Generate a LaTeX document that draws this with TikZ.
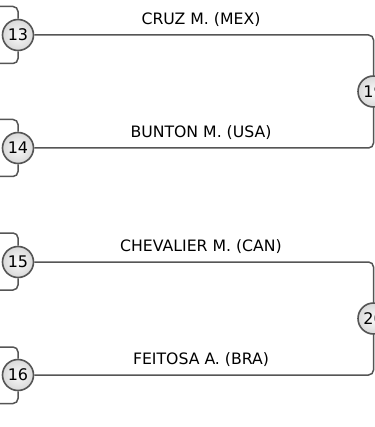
\documentclass[tikz,border=0pt]{standalone}
\usepackage{fontspec}
\setmainfont{DejaVu Sans}
\definecolor{linegray}{HTML}{555555}
\begin{document}
\begin{tikzpicture}[x=1pt,y=-1pt,
  bout/.style={circle, draw=linegray, line width=1.6pt, minimum size=31pt, inner sep=0pt,
    inner color=white!96!gray, outer color=gray!30, font=\fontsize{16}{16}\selectfont},
  conn/.style={draw=linegray, line width=1.5pt, rounded corners=5pt},
  fname/.style={font=\fontsize{15.7}{16}\selectfont, text=black, inner sep=0pt}]
\useasboundingbox (0,0) rectangle (374,427);
\fill[white] (0,0) rectangle (374,427);
% free ends of the brackets
\coordinate (t13) at (0,6.5);   \coordinate (b13) at (0,63.5);
\coordinate (t14) at (0,119.5); \coordinate (b14) at (0,176.5);
\coordinate (t15) at (0,233);   \coordinate (b15) at (0,290);
\coordinate (t16) at (0,347);   \coordinate (b16) at (0,403.5);
\coordinate (p19) at (373.5,91.5);
\coordinate (p20) at (373.5,318.5);
% matches
\node[bout] (m13) at (18,35) {13};
\node[bout] (m14) at (18,148) {14};
\node[bout] (m15) at (18,262) {15};
\node[bout] (m16) at (18,375) {16};
\node[bout] (m19) at (p19) {19};
\node[bout] (m20) at (p20) {20};
% connectors
\draw[conn] (t13) -| (m13.north);
\draw[conn] (b13) -| (m13.south);
\draw[conn] (t14) -| (m14.north);
\draw[conn] (b14) -| (m14.south);
\draw[conn] (t15) -| (m15.north);
\draw[conn] (b15) -| (m15.south);
\draw[conn] (t16) -| (m16.north);
\draw[conn] (b16) -| (m16.south);
\draw[conn] (m13.east) -| (m19.north);
\draw[conn] (m14.east) -| (m19.south);
\draw[conn] (m15.east) -| (m20.north);
\draw[conn] (m16.east) -| (m20.south);
% names
\node[fname] (n13) at (201,20) {CRUZ M. (MEX)};
\node[fname] (n14) at (201,133) {BUNTON M. (USA)};
\node[fname] (n15) at (201,246.5) {CHEVALIER M. (CAN)};
\node[fname] (n16) at (201,359.5) {FEITOSA A. (BRA)};
\end{tikzpicture}
\end{document}
